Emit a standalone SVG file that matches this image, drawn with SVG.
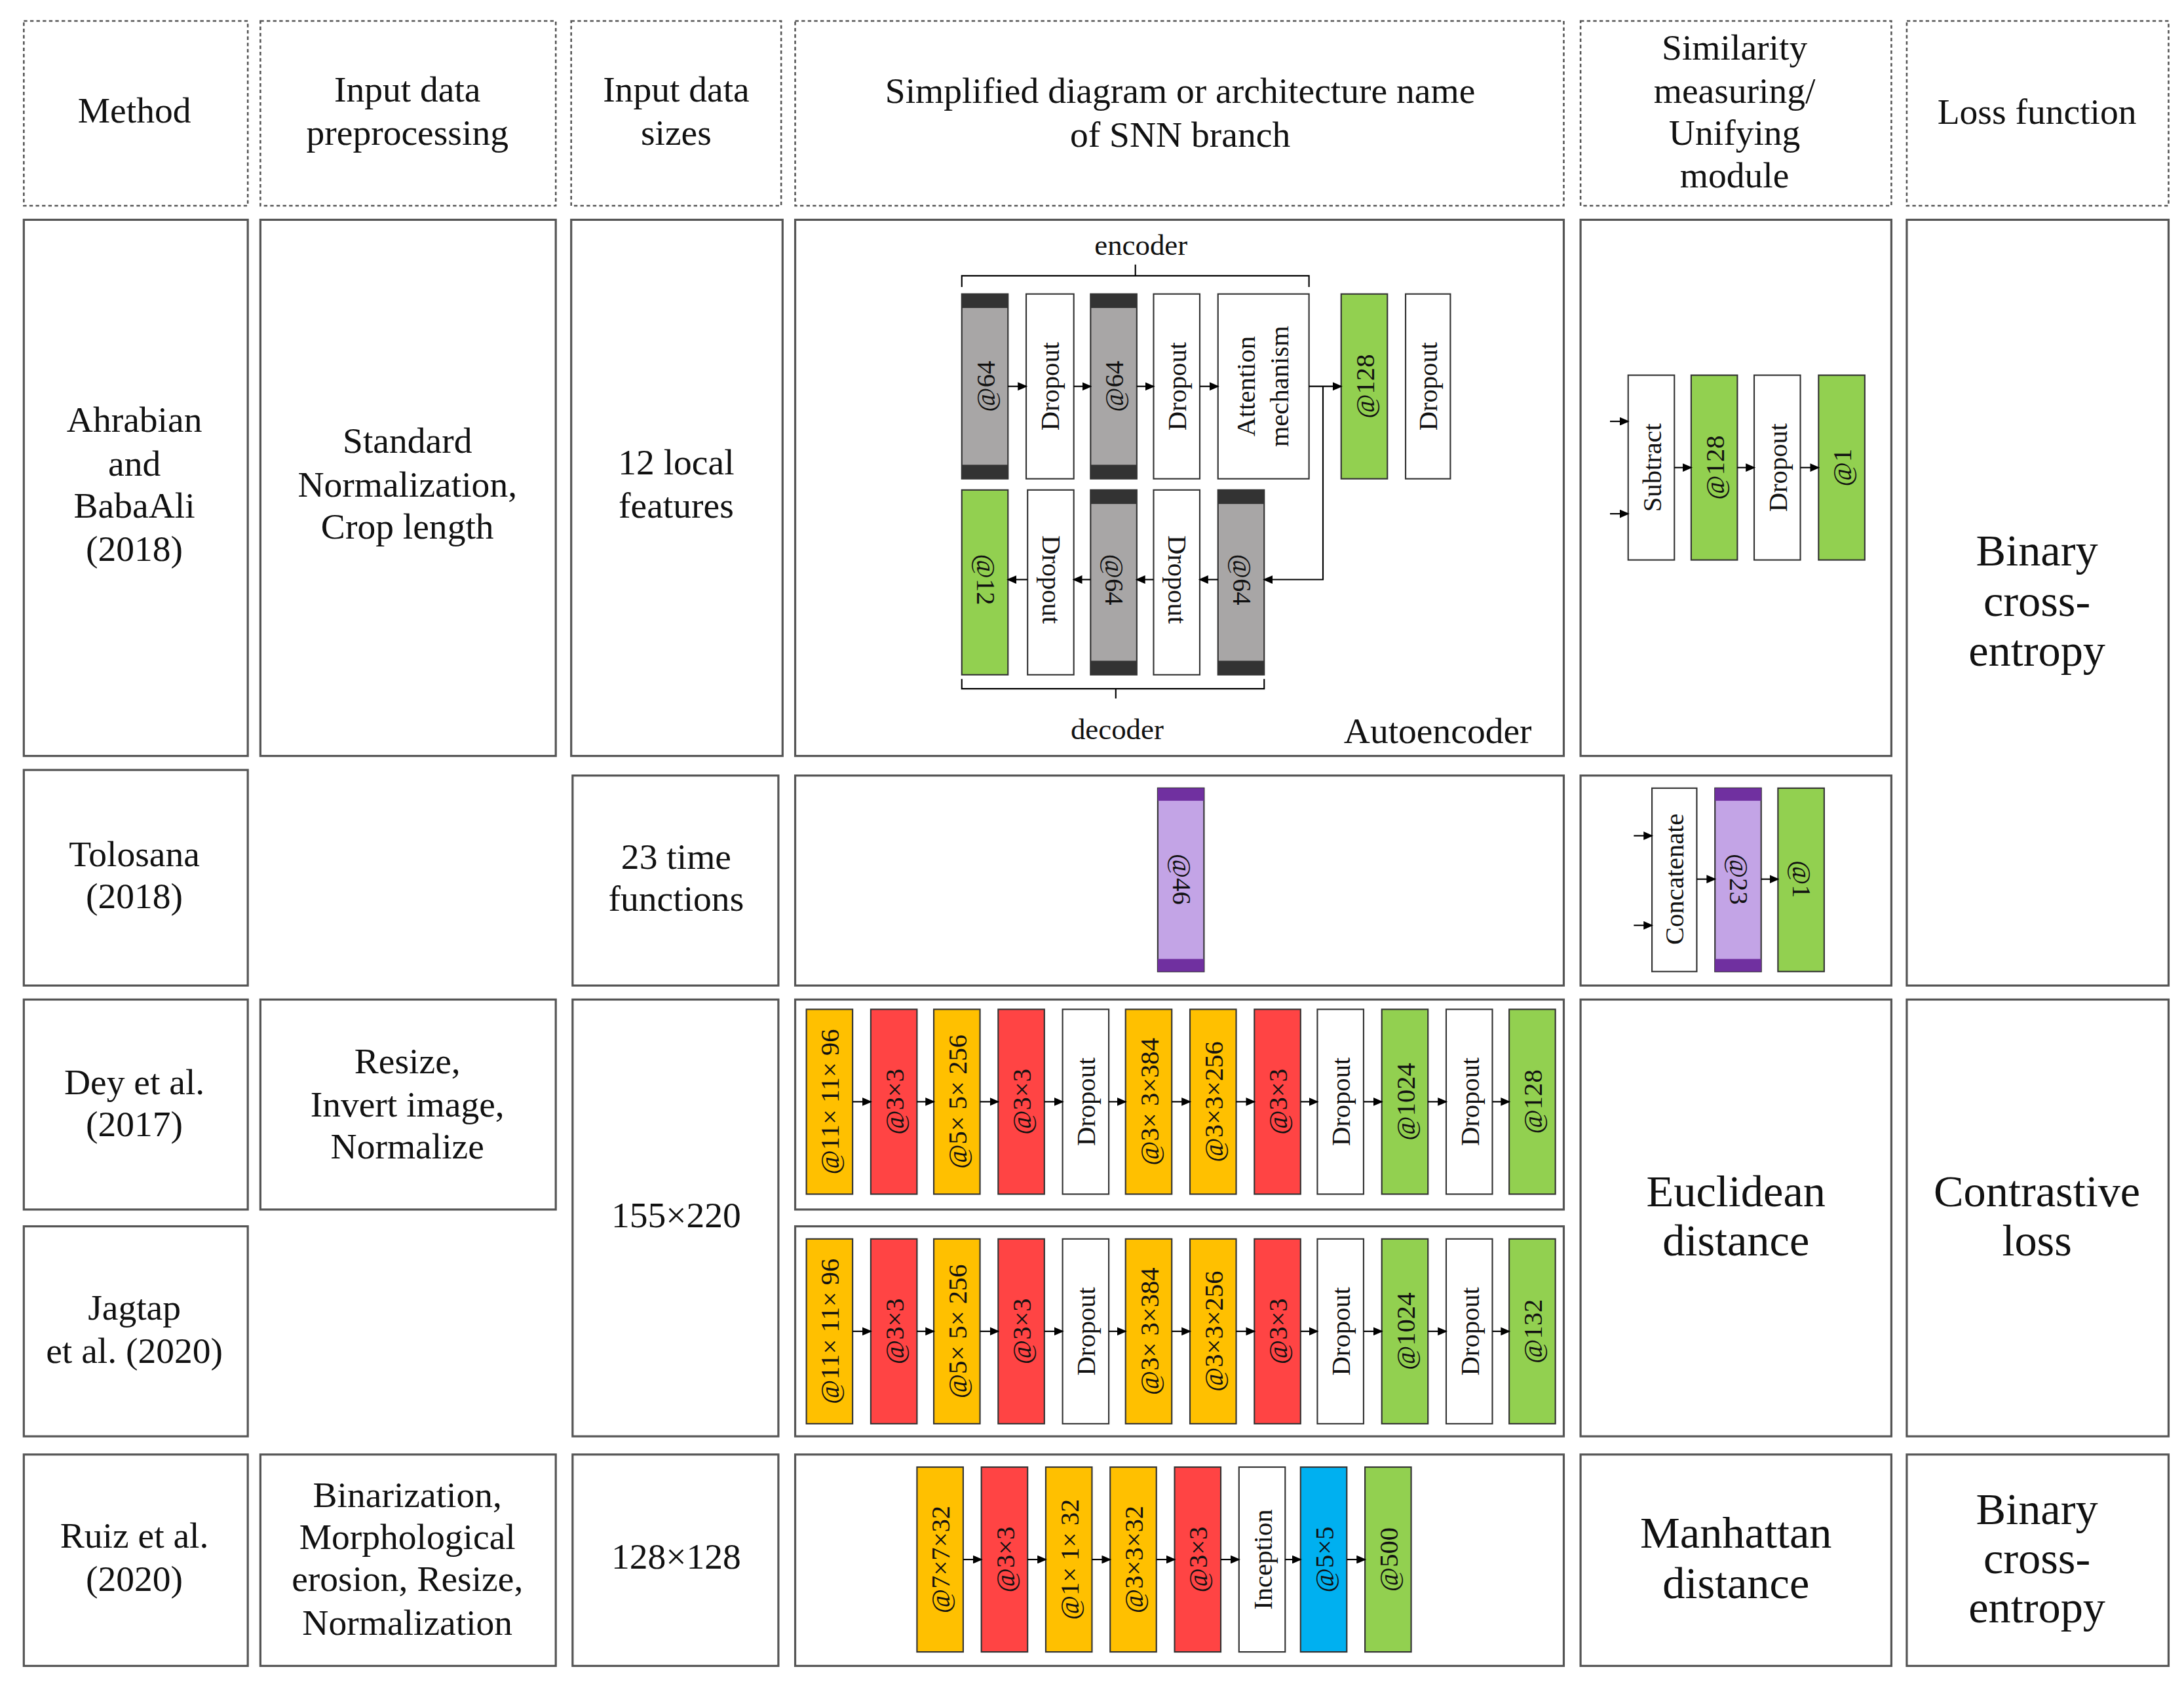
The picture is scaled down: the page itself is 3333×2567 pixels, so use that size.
<svg xmlns="http://www.w3.org/2000/svg" width="3333" height="2567" viewBox="0 0 3333 2567">
<defs>
<marker id="ar" markerUnits="userSpaceOnUse" markerWidth="7" markerHeight="6" refX="6" refY="3" orient="auto"><path d="M0,0 L7,3 L0,6 z" fill="#000"/></marker>
<style>
.hd{fill:#fff;stroke:#555;stroke-width:1.2;stroke-dasharray:2.5 2}
.cl{fill:#fff;stroke:#555;stroke-width:1.5}
.t{font-family:"Liberation Serif","DejaVu Serif",serif;font-size:26px;fill:#111;text-anchor:middle;dominant-baseline:central}
.b{font-size:32px}
.s{font-size:19px}
.bk{stroke:#333;stroke-width:1}
.o{fill:#FFC000}.r{fill:#FF4444}.g{fill:#92D050}.w{fill:#fff}.bl{fill:#00B0F0}.p{fill:#C3A4E6}.gr{fill:#A8A6A6}
.cap{fill:#333}.pc{fill:#7030A0}
.ln{stroke:#000;stroke-width:1;fill:none}
.a{stroke:#000;stroke-width:1;fill:none;marker-end:url(#ar)}
</style>
</defs>
<rect width="3333" height="2567" fill="#fff"/>
<g transform="scale(2.1365)">
<g id="headers">
<rect class="hd" x="17" y="15" width="160" height="132"/><text class="t" x="96" y="79">Method</text>
<rect class="hd" x="186" y="15" width="211" height="132"/><text class="t" x="291" y="64">Input data</text><text class="t" x="291" y="95">preprocessing</text>
<rect class="hd" x="408" y="15" width="150" height="132"/><text class="t" x="483" y="64">Input data</text><text class="t" x="483" y="95">sizes</text>
<rect class="hd" x="568" y="15" width="549" height="132"/><text class="t" x="843" y="65">Simplified diagram or architecture name</text><text class="t" x="843" y="96">of SNN branch</text>
<rect class="hd" x="1129" y="15" width="222" height="132"/><text class="t" x="1239" y="34">Similarity</text><text class="t" x="1239" y="65">measuring/</text><text class="t" x="1239" y="95">Unifying</text><text class="t" x="1239" y="125">module</text>
<rect class="hd" x="1362" y="15" width="187" height="132"/><text class="t" x="1455" y="80">Loss function</text>
</g>
<g id="cells">
<rect class="cl" x="17" y="157" width="160" height="383"/><text class="t" x="96" y="300">Ahrabian</text><text class="t" x="96" y="331">and</text><text class="t" x="96" y="361">BabaAli</text><text class="t" x="96" y="392">(2018)</text>
<rect class="cl" x="186" y="157" width="211" height="383"/><text class="t" x="291" y="315">Standard</text><text class="t" x="291" y="346">Normalization,</text><text class="t" x="291" y="376">Crop length</text>
<rect class="cl" x="408" y="157" width="151" height="383"/><text class="t" x="483" y="330">12 local</text><text class="t" x="483" y="361">features</text>
<rect class="cl" x="568" y="157" width="549" height="383"/>
<rect class="cl" x="1129" y="157" width="222" height="383"/>
<rect class="cl" x="1362" y="157" width="187" height="547"/><text class="t b" x="1455" y="393">Binary</text><text class="t b" x="1455" y="429">cross-</text><text class="t b" x="1455" y="465">entropy</text>
<rect class="cl" x="17" y="550" width="160" height="154"/><text class="t" x="96" y="610">Tolosana</text><text class="t" x="96" y="640">(2018)</text>
<rect class="cl" x="409" y="554" width="147" height="150"/><text class="t" x="483" y="612">23 time</text><text class="t" x="483" y="642">functions</text>
<rect class="cl" x="568" y="554" width="549" height="150"/>
<rect class="cl" x="1129" y="554" width="222" height="150"/>
<rect class="cl" x="17" y="714" width="160" height="150"/><text class="t" x="96" y="773">Dey et al.</text><text class="t" x="96" y="803">(2017)</text>
<rect class="cl" x="186" y="714" width="211" height="150"/><text class="t" x="291" y="758">Resize,</text><text class="t" x="291" y="789">Invert image,</text><text class="t" x="291" y="819">Normalize</text>
<rect class="cl" x="409" y="714" width="147" height="312"/><text class="t" x="483" y="868">155×220</text>
<rect class="cl" x="568" y="714" width="549" height="150"/>
<rect class="cl" x="568" y="876" width="549" height="150"/>
<rect class="cl" x="17" y="876" width="160" height="150"/><text class="t" x="96" y="934">Jagtap</text><text class="t" x="96" y="965">et al. (2020)</text>
<rect class="cl" x="1129" y="714" width="222" height="312"/><text class="t b" x="1240" y="851">Euclidean</text><text class="t b" x="1240" y="886">distance</text>
<rect class="cl" x="1362" y="714" width="187" height="312"/><text class="t b" x="1455" y="851">Contrastive</text><text class="t b" x="1455" y="886">loss</text>
<rect class="cl" x="17" y="1039" width="160" height="151"/><text class="t" x="96" y="1097">Ruiz et al.</text><text class="t" x="96" y="1128">(2020)</text>
<rect class="cl" x="186" y="1039" width="211" height="151"/><text class="t" x="291" y="1068">Binarization,</text><text class="t" x="291" y="1098">Morphological</text><text class="t" x="291" y="1128">erosion, Resize,</text><text class="t" x="291" y="1159">Normalization</text>
<rect class="cl" x="409" y="1039" width="147" height="151"/><text class="t" x="483" y="1112">128×128</text>
<rect class="cl" x="568" y="1039" width="549" height="151"/>
<rect class="cl" x="1129" y="1039" width="222" height="151"/><text class="t b" x="1240" y="1095">Manhattan</text><text class="t b" x="1240" y="1131">distance</text>
<rect class="cl" x="1362" y="1039" width="187" height="151"/><text class="t b" x="1455" y="1078">Binary</text><text class="t b" x="1455" y="1113">cross-</text><text class="t b" x="1455" y="1148">entropy</text>
</g>
<g id="autoencoder">
<text class="t s" x="815" y="175" style="font-size:21px">encoder</text>
<path class="ln" d="M687,205 V197 H935 V205 M811,197 V189"/>
<rect class="bk gr" x="687" y="210" width="33" height="132"/><rect class="cap" x="687" y="210" width="33" height="10"/><rect class="cap" x="687" y="332" width="33" height="10"/>
<text class="t s" transform="translate(704,276) rotate(-90)">@64</text>
<rect class="bk w" x="733" y="210" width="34" height="132"/><text class="t s" transform="translate(750,276) rotate(-90)">Dropout</text>
<rect class="bk gr" x="779" y="210" width="33" height="132"/><rect class="cap" x="779" y="210" width="33" height="10"/><rect class="cap" x="779" y="332" width="33" height="10"/>
<text class="t s" transform="translate(796,276) rotate(-90)">@64</text>
<rect class="bk w" x="824" y="210" width="33" height="132"/><text class="t s" transform="translate(841,276) rotate(-90)">Dropout</text>
<rect class="bk w" x="870" y="210" width="65" height="132"/><text class="t s" transform="translate(890,276) rotate(-90)">Attention</text><text class="t s" transform="translate(914,276) rotate(-90)">mechanism</text>
<rect class="bk g" x="958" y="210" width="33" height="132"/><text class="t s" transform="translate(975,276) rotate(-90)">@128</text>
<rect class="bk w" x="1004" y="210" width="32" height="132"/><text class="t s" transform="translate(1020,276) rotate(-90)">Dropout</text>
<rect class="bk g" x="687" y="350" width="33" height="132"/><text class="t s" transform="translate(704,414) rotate(90)">@12</text>
<rect class="bk w" x="734" y="350" width="33" height="132"/><text class="t s" transform="translate(751,414) rotate(90)">Dropout</text>
<rect class="bk gr" x="779" y="350" width="33" height="132"/><rect class="cap" x="779" y="350" width="33" height="10"/><rect class="cap" x="779" y="472" width="33" height="10"/>
<text class="t s" transform="translate(796,414) rotate(90)">@64</text>
<rect class="bk w" x="824" y="350" width="33" height="132"/><text class="t s" transform="translate(841,414) rotate(90)">Dropout</text>
<rect class="bk gr" x="870" y="350" width="33" height="132"/><rect class="cap" x="870" y="350" width="33" height="10"/><rect class="cap" x="870" y="472" width="33" height="10"/>
<text class="t s" transform="translate(887,414) rotate(90)">@64</text>
<path class="ln" d="M687,485 V492 H903 V485 M797,492 V499"/>
<text class="t s" x="798" y="521" style="font-size:21px">decoder</text>
<text class="t" x="1027" y="522">Autoencoder</text>
</g>
<g id="sim1">
<rect class="bk w" x="1163" y="268" width="33" height="132"/><text class="t s" transform="translate(1180,334) rotate(-90)">Subtract</text>
<rect class="bk g" x="1208" y="268" width="33" height="132"/><text class="t s" transform="translate(1225,334) rotate(-90)">@128</text>
<rect class="bk w" x="1253" y="268" width="33" height="132"/><text class="t s" transform="translate(1270,334) rotate(-90)">Dropout</text>
<rect class="bk g" x="1299" y="268" width="33" height="132"/><text class="t s" transform="translate(1316,334) rotate(-90)">@1</text>
</g>
<g id="tolosana">
<rect class="bk p" x="827" y="563" width="33" height="131"/><rect class="pc" x="827" y="563" width="33" height="9"/><rect class="pc" x="827" y="685" width="33" height="9"/>
<text class="t s" transform="translate(844,628) rotate(90)">@46</text>
<rect class="bk w" x="1180" y="563" width="32" height="131"/><text class="t s" transform="translate(1196,628) rotate(-90)">Concatenate</text>
<rect class="bk p" x="1225" y="563" width="33" height="131"/><rect class="pc" x="1225" y="563" width="33" height="9"/><rect class="pc" x="1225" y="685" width="33" height="9"/>
<text class="t s" transform="translate(1242,628) rotate(90)">@23</text>
<rect class="bk g" x="1270" y="563" width="33" height="131"/><text class="t s" transform="translate(1287,628) rotate(90)">@1</text>
</g>
<g id="dey">
<rect class="bk o" x="576" y="721" width="33" height="132"/><text class="t s" transform="translate(593,787) rotate(-90)">@11× 11× 96</text>
<rect class="bk r" x="622" y="721" width="33" height="132"/><text class="t s" transform="translate(639,787) rotate(-90)">@3×3</text>
<rect class="bk o" x="667" y="721" width="33" height="132"/><text class="t s" transform="translate(684,787) rotate(-90)">@5× 5× 256</text>
<rect class="bk r" x="713" y="721" width="33" height="132"/><text class="t s" transform="translate(730,787) rotate(-90)">@3×3</text>
<rect class="bk w" x="759" y="721" width="33" height="132"/><text class="t s" transform="translate(776,787) rotate(-90)">Dropout</text>
<rect class="bk o" x="804" y="721" width="33" height="132"/><text class="t s" transform="translate(821,787) rotate(-90)">@3× 3×384</text>
<rect class="bk o" x="850" y="721" width="33" height="132"/><text class="t s" transform="translate(867,787) rotate(-90)">@3×3×256</text>
<rect class="bk r" x="896" y="721" width="33" height="132"/><text class="t s" transform="translate(913,787) rotate(-90)">@3×3</text>
<rect class="bk w" x="941" y="721" width="33" height="132"/><text class="t s" transform="translate(958,787) rotate(-90)">Dropout</text>
<rect class="bk g" x="987" y="721" width="33" height="132"/><text class="t s" transform="translate(1004,787) rotate(-90)">@1024</text>
<rect class="bk w" x="1033" y="721" width="33" height="132"/><text class="t s" transform="translate(1050,787) rotate(-90)">Dropout</text>
<rect class="bk g" x="1078" y="721" width="33" height="132"/><text class="t s" transform="translate(1095,787) rotate(-90)">@128</text>
</g>
<g id="jagtap">
<rect class="bk o" x="576" y="885" width="33" height="132"/><text class="t s" transform="translate(593,951) rotate(-90)">@11× 11× 96</text>
<rect class="bk r" x="622" y="885" width="33" height="132"/><text class="t s" transform="translate(639,951) rotate(-90)">@3×3</text>
<rect class="bk o" x="667" y="885" width="33" height="132"/><text class="t s" transform="translate(684,951) rotate(-90)">@5× 5× 256</text>
<rect class="bk r" x="713" y="885" width="33" height="132"/><text class="t s" transform="translate(730,951) rotate(-90)">@3×3</text>
<rect class="bk w" x="759" y="885" width="33" height="132"/><text class="t s" transform="translate(776,951) rotate(-90)">Dropout</text>
<rect class="bk o" x="804" y="885" width="33" height="132"/><text class="t s" transform="translate(821,951) rotate(-90)">@3× 3×384</text>
<rect class="bk o" x="850" y="885" width="33" height="132"/><text class="t s" transform="translate(867,951) rotate(-90)">@3×3×256</text>
<rect class="bk r" x="896" y="885" width="33" height="132"/><text class="t s" transform="translate(913,951) rotate(-90)">@3×3</text>
<rect class="bk w" x="941" y="885" width="33" height="132"/><text class="t s" transform="translate(958,951) rotate(-90)">Dropout</text>
<rect class="bk g" x="987" y="885" width="33" height="132"/><text class="t s" transform="translate(1004,951) rotate(-90)">@1024</text>
<rect class="bk w" x="1033" y="885" width="33" height="132"/><text class="t s" transform="translate(1050,951) rotate(-90)">Dropout</text>
<rect class="bk g" x="1078" y="885" width="33" height="132"/><text class="t s" transform="translate(1095,951) rotate(-90)">@132</text>
</g>
<g id="ruiz">
<rect class="bk o" x="655" y="1048" width="33" height="132"/><text class="t s" transform="translate(672,1114) rotate(-90)">@7×7×32</text>
<rect class="bk r" x="701" y="1048" width="33" height="132"/><text class="t s" transform="translate(718,1114) rotate(-90)">@3×3</text>
<rect class="bk o" x="747" y="1048" width="33" height="132"/><text class="t s" transform="translate(764,1114) rotate(-90)">@1× 1× 32</text>
<rect class="bk o" x="793" y="1048" width="33" height="132"/><text class="t s" transform="translate(810,1114) rotate(-90)">@3×3×32</text>
<rect class="bk r" x="839" y="1048" width="33" height="132"/><text class="t s" transform="translate(856,1114) rotate(-90)">@3×3</text>
<rect class="bk w" x="885" y="1048" width="33" height="132"/><text class="t s" transform="translate(902,1114) rotate(-90)">Inception</text>
<rect class="bk bl" x="929" y="1048" width="33" height="132"/><text class="t s" transform="translate(946,1114) rotate(-90)">@5×5</text>
<rect class="bk g" x="975" y="1048" width="33" height="132"/><text class="t s" transform="translate(992,1114) rotate(-90)">@500</text>
</g>
<g id="connectors">
<path class="a" d="M720,276 H733"/><path class="a" d="M767,276 H779"/><path class="a" d="M812,276 H824"/><path class="a" d="M857,276 H870"/>
<path class="a" d="M935,276 H958"/>
<path class="a" d="M945,276 V414 H903"/>
<path class="a" d="M870,414 H857"/><path class="a" d="M824,414 H812"/><path class="a" d="M779,414 H767"/><path class="a" d="M734,414 H720"/>
<path class="a" d="M1150,301 H1163"/><path class="a" d="M1150,367 H1163"/>
<path class="a" d="M1196,334 H1208"/><path class="a" d="M1241,334 H1253"/><path class="a" d="M1286,334 H1299"/>
<path class="a" d="M1167,597 H1180"/><path class="a" d="M1167,661 H1180"/>
<path class="a" d="M1212,628 H1225"/><path class="a" d="M1258,628 H1270"/>
<path class="a" d="M609,787 H622"/><path class="a" d="M655,787 H667"/><path class="a" d="M700,787 H713"/><path class="a" d="M746,787 H759"/><path class="a" d="M792,787 H804"/><path class="a" d="M837,787 H850"/><path class="a" d="M883,787 H896"/><path class="a" d="M929,787 H941"/><path class="a" d="M974,787 H987"/><path class="a" d="M1020,787 H1033"/><path class="a" d="M1066,787 H1078"/>
<path class="a" d="M609,951 H622"/><path class="a" d="M655,951 H667"/><path class="a" d="M700,951 H713"/><path class="a" d="M746,951 H759"/><path class="a" d="M792,951 H804"/><path class="a" d="M837,951 H850"/><path class="a" d="M883,951 H896"/><path class="a" d="M929,951 H941"/><path class="a" d="M974,951 H987"/><path class="a" d="M1020,951 H1033"/><path class="a" d="M1066,951 H1078"/>
<path class="a" d="M688,1114 H701"/><path class="a" d="M734,1114 H747"/><path class="a" d="M780,1114 H793"/><path class="a" d="M826,1114 H839"/><path class="a" d="M872,1114 H885"/><path class="a" d="M918,1114 H929"/><path class="a" d="M962,1114 H975"/>
</g>
</g>
</svg>
